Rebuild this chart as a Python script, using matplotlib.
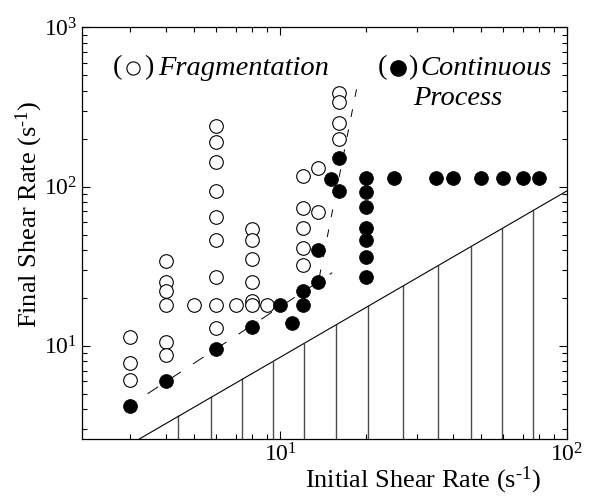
import numpy as np
import matplotlib.pyplot as plt
from matplotlib.ticker import LogLocator, LogFormatterMathtext, NullFormatter

plt.rcParams['font.family'] = ['Liberation Serif', 'DejaVu Sans']
plt.rcParams['mathtext.fontset'] = 'custom'
plt.rcParams['mathtext.rm'] = 'Liberation Serif'
plt.rcParams['mathtext.it'] = 'Liberation Serif:italic'

# open circles: fragmentation
frag_x = [3, 3, 3,
          4, 4, 4, 4, 4, 4,
          5,
          6, 6, 6, 6, 6, 6, 6, 6, 6,
          7,
          8, 8, 8, 8, 8, 8,
          9,
          12, 12, 12, 12, 12,
          13.6, 13.6,
          16, 16, 16, 16]
frag_y = [11.4, 7.8, 6.1,
          34, 25, 22, 18, 10.6, 8.8,
          18,
          240, 190, 142, 94, 64, 46, 27, 18, 13,
          18,
          54, 46, 35, 25, 19, 18,
          18,
          117, 73, 55, 41, 32,
          131, 69,
          387, 339, 250, 199]

# filled circles: continuous process
cont_x = [3, 4, 6, 8, 10, 11, 12, 12, 13.6, 13.6, 15, 16, 16,
          20, 20, 20, 20, 20, 20, 20,
          25, 35, 40, 50, 60, 70, 80]
cont_y = [4.2, 6.0, 9.6, 13.1, 18, 14, 22, 18, 40, 25, 112, 152, 94,
          113, 93, 74, 55, 46, 36, 27,
          113, 113, 113, 113, 113, 113, 113]

# dashed guide lines
shallow_x = [3.45, 15.2]
shallow_y = [5.0, 28.8]
steep_x = [13.7, 18.8]
steep_y = [27, 480]

# boundary line and hatching below it
diag_x = [3.23, 100]
diag_y = [2.6, 94]
hatch_x = [4.42, 5.75, 7.39, 9.43, 12.1, 15.67, 20.3, 26.9, 35.6, 46.2, 59.2, 75.9]

fig = plt.figure(figsize=(5.97, 4.97), dpi=100)
ax = fig.add_axes([0.1374, 0.1167, 0.8123, 0.8283])
ax.set_xscale('log')
ax.set_yscale('log')
ax.set_xlim(2.04, 100)
ax.set_ylim(2.6, 1000)

# hatching: vertical lines from bottom to the diagonal
lx = np.log10(diag_x)
ly = np.log10(diag_y)
slope = (ly[1] - ly[0]) / (lx[1] - lx[0])
for hx in hatch_x:
    top = 10 ** (ly[0] + slope * (np.log10(hx) - lx[0]))
    ax.plot([hx, hx], [2.6, top], color='#4d4d4d', lw=1.0, zorder=1)
ax.plot(diag_x, diag_y, color='black', lw=0.8, zorder=2)

ax.plot(shallow_x, shallow_y, color='black', lw=0.7, linestyle=(0, (13, 15)), zorder=2)
ax.plot(steep_x, steep_y, color='black', lw=0.7, linestyle=(0, (8, 13)), zorder=2)

ax.plot(frag_x, frag_y, 'o', ms=9.8, mfc='white', mec='black', mew=0.8, zorder=3)
ax.plot(cont_x, cont_y, 'o', ms=10, mfc='black', mec='black', mew=0.5, zorder=4)

ax.xaxis.set_major_locator(LogLocator(base=10))
ax.yaxis.set_major_locator(LogLocator(base=10))
ax.xaxis.set_minor_locator(LogLocator(base=10, subs=np.arange(2, 10)))
ax.yaxis.set_minor_locator(LogLocator(base=10, subs=np.arange(2, 10)))
ax.xaxis.set_major_formatter(LogFormatterMathtext())
ax.yaxis.set_major_formatter(LogFormatterMathtext())
ax.xaxis.set_minor_formatter(NullFormatter())
ax.yaxis.set_minor_formatter(NullFormatter())
ax.tick_params(which='both', direction='in', top=True, right=True, width=0.8, labelsize=17)
ax.tick_params(which='major', length=6)
ax.tick_params(which='minor', length=3.5)
ax.tick_params(axis='x', pad=3)
for s in ax.spines.values():
    s.set_linewidth(0.9)

ax.text(0.703, -0.100, r'Initial Shear Rate (s$^{\text{-1}}$)', transform=ax.transAxes,
        ha='center', va='center', fontsize=19)
ax.text(-0.108, 0.545, r'Final Shear Rate (s$^{\text{-1}}$)', transform=ax.transAxes,
        ha='center', va='center', rotation=90, fontsize=19)

# legend-like labels: parentheses with a marker between them
fs = 20.5
ax.text(0.064, 0.901, '(', transform=ax.transAxes, ha='left', va='center', fontsize=fs)
ax.plot([0.105], [0.901], 'o', ms=9.5, mfc='white', mec='black', mew=0.8,
        transform=ax.transAxes, clip_on=False)
ax.text(0.128, 0.901, ')', transform=ax.transAxes, ha='left', va='center', fontsize=fs)
ax.text(0.157, 0.901, 'Fragmentation', transform=ax.transAxes, ha='left', va='center',
        fontsize=fs, style='italic')

ax.text(0.609, 0.901, '(', transform=ax.transAxes, ha='left', va='center', fontsize=fs)
ax.plot([0.651], [0.901], 'o', ms=11, mfc='black', mec='black',
        transform=ax.transAxes, clip_on=False)
ax.text(0.672, 0.901, ')', transform=ax.transAxes, ha='left', va='center', fontsize=fs)
ax.text(0.697, 0.901, 'Continuous', transform=ax.transAxes, ha='left', va='center',
        fontsize=fs, style='italic')
ax.text(0.682, 0.828, 'Process', transform=ax.transAxes, ha='left', va='center',
        fontsize=fs, style='italic')

fig.savefig('out.png', dpi=100)
